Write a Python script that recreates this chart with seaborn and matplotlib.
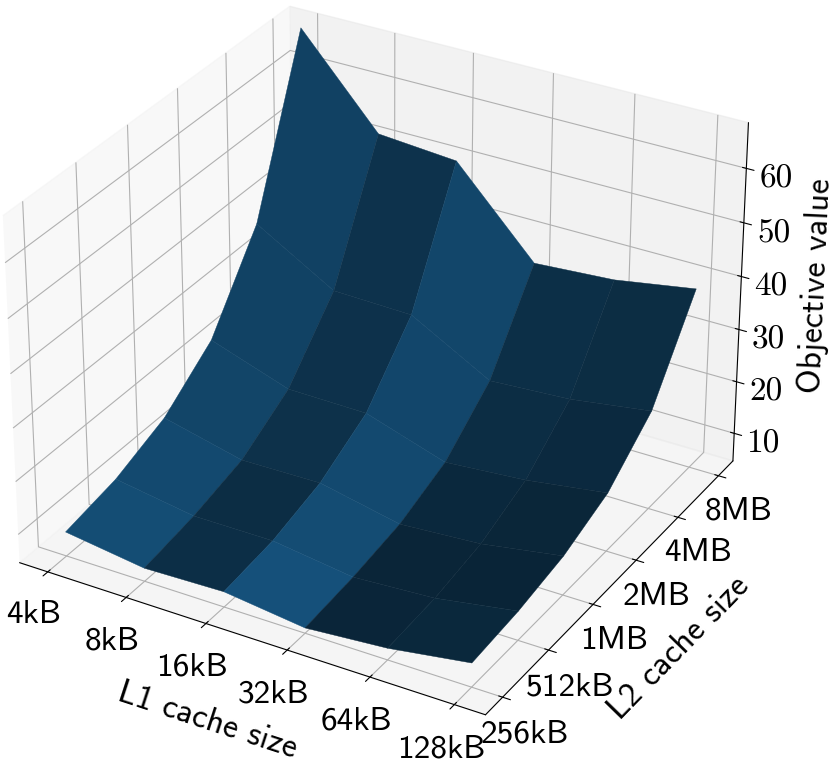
import matplotlib
matplotlib.use('Agg')
import matplotlib.pyplot as plt
import numpy as np
import seaborn as sns

sns.set_style('white', rc={'grid.color': '#b0b0b0', 'text.color': 'black', 'axes.labelcolor': 'black',
                           'xtick.color': 'black', 'ytick.color': 'black', 'axes.edgecolor': 'black'})

l1_labels = ['4kB', '8kB', '16kB', '32kB', '64kB', '128kB']
l2_labels = ['256kB', '512kB', '1MB', '2MB', '4MB', '8MB']
z_ticks = [10, 20, 30, 40, 50, 60]

# one list per L1 size, going 256kB -> 8MB
obj_4kb = [9.2, 11.2, 15.1, 22.5, 37.6, 67.9]
obj_8kb = [7.1, 8.8, 11.5, 17.4, 28.9, 51.8]
obj_16kb = [7.5, 8.8, 11.7, 17.2, 28.5, 50.6]
obj_32kb = [5.6, 6.7, 8.5, 12.3, 20.2, 35.3]
obj_64kb = [6.8, 7.6, 9.5, 13.5, 21.1, 36.3]
obj_128kb = [9.1, 10.1, 12.0, 15.7, 23.3, 38.8]

z = np.array([obj_4kb, obj_8kb, obj_16kb, obj_32kb, obj_64kb, obj_128kb])
x, y = np.meshgrid(np.arange(len(l1_labels)), np.arange(len(l2_labels)), indexing='ij')

fig = plt.figure(figsize=(8.3, 7.62), dpi=100)
ax = fig.add_axes([-0.0504, -0.0079, 0.9964, 1.0853], projection='3d')
ax.set_box_aspect((4, 4, 2.964))
surf = ax.plot_surface(x, y, z, color='#1f77b4', rstride=1, cstride=1, linewidth=0.3, antialiased=True)
surf.set_edgecolor(surf._facecolor3d)
ax.set_zlim(4.6, 68.3, view_margin=0)

ax.set_xticks(range(len(l1_labels)))
ax.set_xticklabels(l1_labels, family='cmss10', fontsize=24)
ax.set_yticks(range(len(l2_labels)))
ax.set_yticklabels(l2_labels, family='cmss10', fontsize=24)
ax.set_zticks(z_ticks)
ax.set_zticklabels([str(t) for t in z_ticks], family='cmr10', fontsize=24)
ax.tick_params(axis='x', pad=7)
ax.tick_params(axis='y', pad=6)
ax.tick_params(axis='z', pad=5)
ax.set_xlabel('L1 cache size', family='cmss10', fontsize=24.3, labelpad=22)
ax.set_ylabel('L2 cache size', family='cmss10', fontsize=24.3, labelpad=22)
ax.set_zlabel('Objective value', family='cmss10', fontsize=24.3, labelpad=12.5)

fig.savefig('out.png', dpi=100)
